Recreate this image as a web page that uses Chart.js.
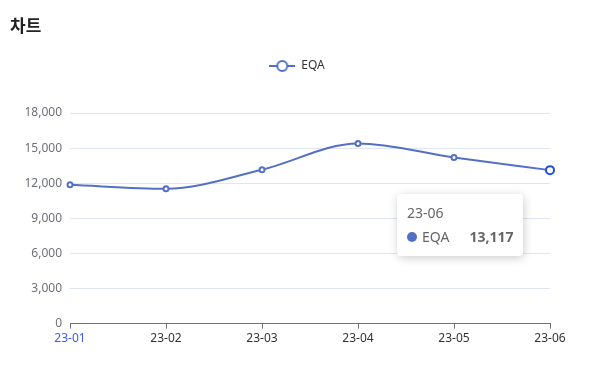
<!DOCTYPE html>
<html>
<head>
<meta charset="utf-8">
<script src="https://cdn.jsdelivr.net/npm/chart.js@4"></script>
<style>
  html, body { margin: 0; padding: 0; background: #fff; }
  #wrap { position: relative; width: 595px; height: 369px; }
  #title { position: absolute; left: 10px; top: 12px; font: bold 17px "Noto Sans CJK KR", sans-serif; color: #222; }
  #tip {
    position: absolute; background: #fff; border-radius: 4px;
    box-shadow: 1px 2px 10px rgba(0,0,0,0.2);
    padding: 9px 10px 9px 10px; font-family: "Noto Sans", sans-serif; color: #666;
    pointer-events: none; opacity: 0; white-space: nowrap;
  }
  #tip .t { font-size: 14px; line-height: 20px; }
  #tip .r { font-size: 14px; line-height: 20px; margin-top: 4px; display: flex; align-items: center; }
  #tip .dot { width: 10px; height: 10px; border-radius: 50%; display: inline-block; margin-right: 5px; }
  #tip .v { font-weight: bold; margin-left: 20px; }
</style>
</head>
<body>
<div id="wrap">
  <div id="title">차트</div>
  <canvas id="chart" width="595" height="369"></canvas>
  <div id="tip"></div>
</div>
<script>
// === Données ===
const months = ["23-01", "23-02", "23-03", "23-04", "23-05", "23-06"];
const eqaValues = [11860, 11520, 13150, 15400, 14200, 13117];
const yTicks = [0, 3000, 6000, 9000, 12000, 15000, 18000];

const LINE_COLOR = "#5470c6";

// icône légende : trait + cercle vide
function legendIcon() {
  const c = document.createElement("canvas");
  c.width = 26; c.height = 14;
  const g = c.getContext("2d");
  g.strokeStyle = LINE_COLOR;
  g.lineWidth = 2;
  g.beginPath(); g.moveTo(0, 7); g.lineTo(26, 7); g.stroke();
  g.fillStyle = "#fff";
  g.beginPath(); g.arc(13, 7, 5, 0, Math.PI * 2); g.fill(); g.stroke();
  return c;
}

// légende centrée sur toute la largeur + espace dessous
const legendTweak = {
  id: "legendTweak",
  beforeUpdate(chart) {
    const lg = chart.legend;
    if (lg && !lg._patched) {
      const fit = lg.fit;
      lg.fit = function () {
        fit.call(this);
        this.height += 31;
      };
      lg._patched = true;
    }
  },
  afterLayout(chart) {
    chart.legend.left += 22;
    chart.legend.right += 22;
  },
};

// tooltip HTML
function externalTip(ctx) {
  const tip = document.getElementById("tip");
  const tt = ctx.tooltip;
  if (tt.opacity === 0) { tip.style.opacity = 0; return; }
  const p = tt.dataPoints[0];
  tip.innerHTML =
    '<div class="t">' + p.label + '</div>' +
    '<div class="r"><span class="dot" style="background:' + LINE_COLOR + '"></span>' +
    '<span>' + p.dataset.label + '</span><span style="flex:1"></span>' +
    '<span class="v">' + p.raw.toLocaleString("en-US") + '</span></div>';
  tip.style.opacity = 1;
  const w = tip.offsetWidth;
  tip.style.left = (tt.caretX - 27 - w) + "px";
  tip.style.top = (tt.caretY + 24) + "px";
}

const chart = new Chart(document.getElementById("chart"), {
  type: "line",
  data: {
    labels: months,
    datasets: [{
      label: "EQA",
      data: eqaValues,
      borderColor: LINE_COLOR,
      borderWidth: 2,
      backgroundColor: "#fff",
      pointBackgroundColor: "#fff",
      pointBorderColor: LINE_COLOR,
      pointBorderWidth: 2,
      pointRadius: 2.5,
      pointHoverRadius: 4,
      pointHoverBorderWidth: 2,
      pointHoverBackgroundColor: "#fff",
      cubicInterpolationMode: "monotone",
      fill: false,
    }],
  },
  plugins: [legendTweak],
  options: {
    responsive: false,
    animation: false,
    layout: { padding: { left: 0, right: 45, top: 50, bottom: 20 } },
    plugins: {
      legend: {
        position: "top",
        labels: {
          usePointStyle: true,
          pointStyle: legendIcon(),
          pointStyleWidth: 26,
          boxHeight: 14,
          color: "#333",
          font: { family: "Noto Sans", size: 12 },
          padding: 10,
        },
      },
      tooltip: { enabled: false, external: externalTip, mode: "index", intersect: false },
    },
    scales: {
      x: {
        offset: false,
        grid: { drawOnChartArea: false, drawTicks: true, tickLength: 5, color: "#6E7079" },
        border: { display: true, color: "#6E7079", width: 1 },
        ticks: {
          padding: 3,
          maxRotation: 0,
          color: (c) => c.index === 0 ? "#3b5bff" : "#333",
          font: { family: "Noto Sans", size: 12 },
        },
      },
      y: {
        min: 0,
        max: 18000,
        afterFit: (s) => { s.width = 70; },
        afterBuildTicks: (s) => { s.ticks = yTicks.map(v => ({ value: v })); },
        grid: { color: "#E0E6F1", drawTicks: false },
        border: { display: false },
        ticks: {
          padding: 8,
          color: "#6E7079",
          font: { family: "Noto Sans", size: 12 },
          callback: (v) => v.toLocaleString("en-US"),
        },
      },
    },
  },
});

// survol sur 23-06
const active = [{ datasetIndex: 0, index: 5 }];
const pt = chart.getDatasetMeta(0).data[5];
chart.setActiveElements(active);
chart.tooltip.setActiveElements(active, { x: pt.x, y: pt.y });
chart.update();
console.log(JSON.stringify(chart.chartArea));
</script>
</body>
</html>
